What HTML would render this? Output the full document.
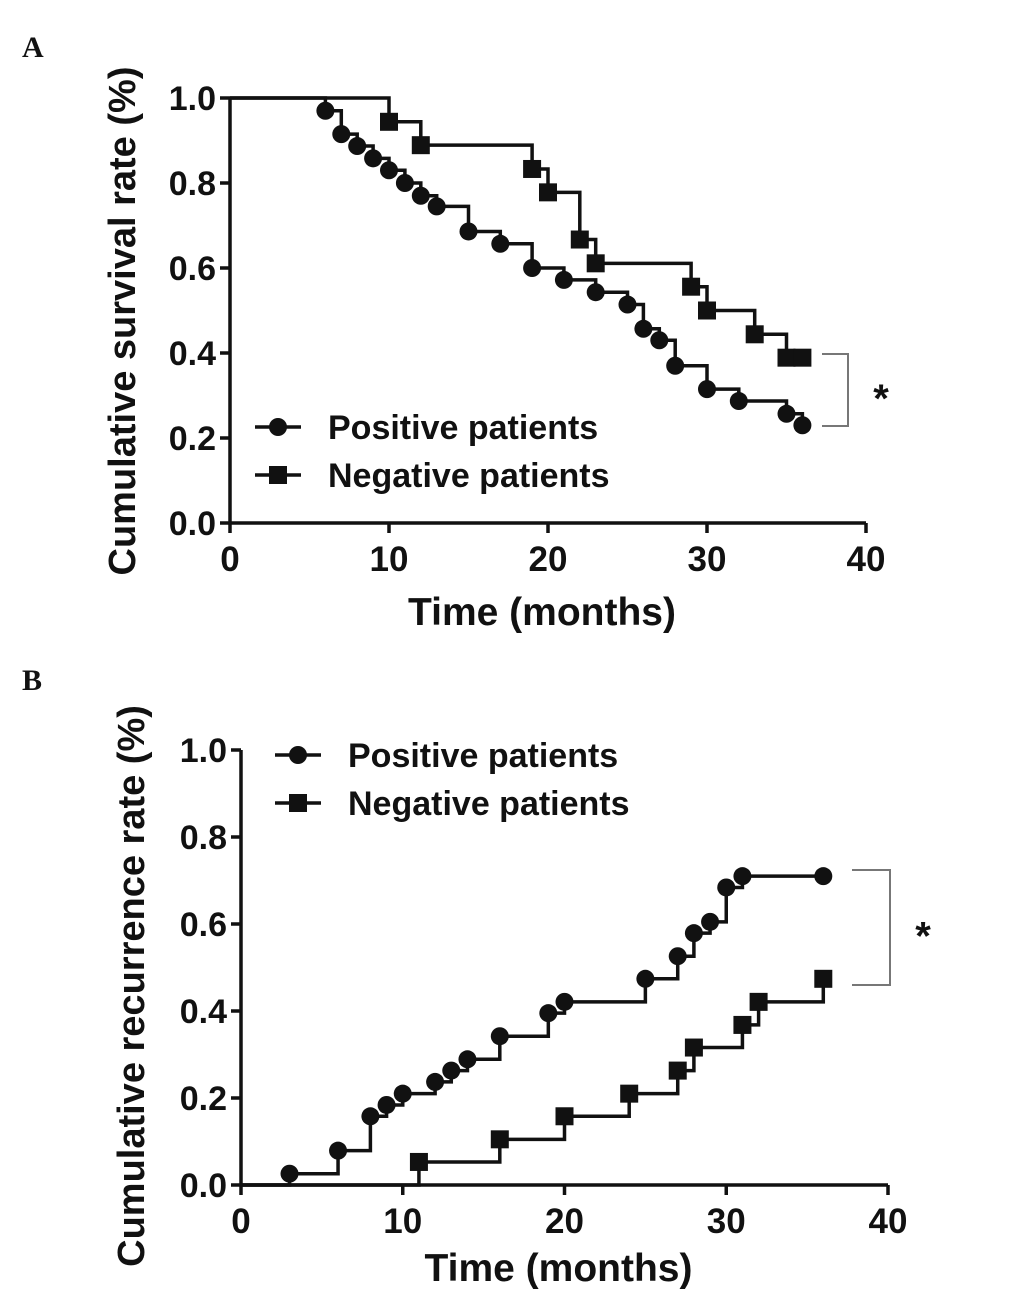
<!DOCTYPE html>
<html><head><meta charset="utf-8"><style>
body{margin:0;background:#fff;}
svg{display:block;}
text{font-family:"Liberation Sans",Arial,sans-serif;font-weight:bold;fill:#111;}
</style></head><body>
<svg id="chart" width="1033" height="1291" viewBox="0 0 1033 1291" xmlns="http://www.w3.org/2000/svg">
<text x="22" y="57" style="font-family:'Liberation Serif',serif;font-size:30px">A</text>
<text x="22" y="690" style="font-family:'Liberation Serif',serif;font-size:30px">B</text>
</svg>
<script>
const xTicks=[0,10,20,30,40];
const yTicks=[0,0.2,0.4,0.6,0.8,1.0];
const aPosT=[6,7,8,9,10,11,12,13,15,17,19,21,23,25,26,27,28,30,32,35,36];
const aPosV=[0.97,0.915,0.887,0.858,0.83,0.80,0.77,0.745,0.686,0.657,0.60,0.572,0.543,0.514,0.457,0.43,0.37,0.315,0.287,0.257,0.23];
const aNegT=[10,12,19,20,22,23,29,30,33,35,36];
const aNegV=[0.944,0.889,0.833,0.778,0.667,0.611,0.556,0.5,0.444,0.389,0.389];
const bPosT=[3,6,8,9,10,12,13,14,16,19,20,25,27,28,29,30,31,36];
const bPosV=[0.026,0.079,0.158,0.184,0.21,0.237,0.263,0.289,0.342,0.395,0.421,0.474,0.526,0.579,0.605,0.684,0.71,0.71];
const bNegT=[11,16,20,24,27,28,31,32,36];
const bNegV=[0.053,0.105,0.158,0.21,0.263,0.316,0.368,0.421,0.474];

const svg=document.getElementById('chart');
const NS='http://www.w3.org/2000/svg';
function mk(tag,attrs,parent){const e=document.createElementNS(NS,tag);for(const k in attrs)e.setAttribute(k,attrs[k]);(parent||svg).appendChild(e);return e;}

function panel(p){
  const g=mk('g',{});
  
  
  const sx=v=>p.x0+(p.x1-p.x0)*v/40;
  const sy=v=>p.y0-(p.y0-p.y1)*v;
  const ax=mk('path',{d:`M${p.x0},${p.y1} V${p.y0} H${p.x1}`,stroke:'#111','stroke-width':3.5,fill:'none'},g);
  
  
  xTicks.forEach(t=>{
    mk('line',{x1:sx(t),x2:sx(t),y1:p.y0,y2:p.y0+10,stroke:'#111','stroke-width':3.5},g);
    const tx=mk('text',{x:sx(t),y:p.y0+48,'text-anchor':'middle','font-size':35},g);
    tx.textContent=t;
    
    
  });
  yTicks.forEach(t=>{
    mk('line',{x1:p.x0-10,x2:p.x0,y1:sy(t),y2:sy(t),stroke:'#111','stroke-width':3.5},g);
    const tx=mk('text',{x:p.x0-14,y:sy(t)+12,'text-anchor':'end','font-size':34},g);
    tx.textContent=t.toFixed(1);
    
    
  });
  const xl=mk('text',{x:(p.x0+p.x1)/2-6,y:p.y0+p.xly,'text-anchor':'middle','font-size':39},g);
  xl.textContent='Time (months)';
  
  
  const yl=mk('text',{x:0,y:0,'text-anchor':'middle','font-size':38,transform:`translate(${p.ylx},${p.ylc}) rotate(-90)`},g);
  yl.textContent=p.ytitle;
  
  
  function series(T,V,start,shape,nm){
    let d=`M${sx(0)},${sy(start)}`;
    T.forEach((t,i)=>{d+=` H${sx(t)} V${sy(V[i])}`;});
    const l=mk('path',{d:d,stroke:'#111','stroke-width':3.5,fill:'none'},g);
    
    
    T.forEach((t,i)=>{
      let m;
      if(shape==='c')m=mk('circle',{cx:sx(t),cy:sy(V[i]),r:9,fill:'#111'},g);
      else m=mk('rect',{x:sx(t)-9,y:sy(V[i])-9,width:18,height:18,fill:'#111'},g);
      
      
    });
  }
  series(p.posT,p.posV,p.start,'c','positive');
  series(p.negT,p.negV,p.start,'s','negative');
  [['Positive patients','c',p.ly],['Negative patients','s',p.ly+48]].forEach(([lab,sh,y])=>{
    const le=mk('g',{},g);
    
    
    mk('line',{x1:p.lx,x2:p.lx+46,y1:y,y2:y,stroke:'#111','stroke-width':3.5},le);
    if(sh==='c')mk('circle',{cx:p.lx+23,cy:y,r:9,fill:'#111'},le);
    else mk('rect',{x:p.lx+14,y:y-9,width:18,height:18,fill:'#111'},le);
    const t=mk('text',{x:p.lx+73,y:y+12,'font-size':34},le);t.textContent=lab;
  });
  const br=mk('path',{d:`M${p.bx0},${p.bt} H${p.bx1} V${p.bb} H${p.bx0}`,stroke:'#777','stroke-width':2,fill:'none'},g);
  
  
  const st=mk('text',{x:p.bx1+33,y:(p.bt+p.bb)/2+22,'font-size':40,'text-anchor':'middle'},g);
  st.textContent='*';
  
  
}
panel({name:'panel-a-survival',x0:230,x1:866,y0:523,y1:98,ylx:135,ylc:321,xly:102,ytitle:'Cumulative survival rate (%)',
  posT:aPosT,posV:aPosV,negT:aNegT,negV:aNegV,start:1,lx:255,ly:427,bx0:822,bx1:848,bt:354,bb:426});
panel({name:'panel-b-recurrence',x0:241,x1:888,y0:1185,y1:750,ylx:144,ylc:986,xly:96,ytitle:'Cumulative recurrence rate (%)',
  posT:bPosT,posV:bPosV,negT:bNegT,negV:bNegV,start:0,lx:275,ly:755,bx0:852,bx1:890,bt:870,bb:985});
</script>
</body></html>
